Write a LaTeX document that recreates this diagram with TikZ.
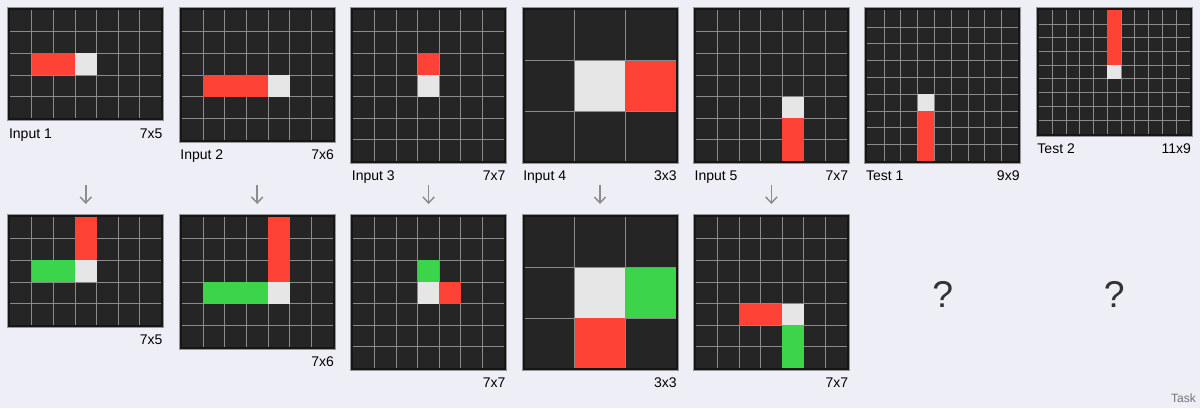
\documentclass[tikz,border=0pt]{standalone}
\usepackage{fontspec}
\setmainfont{Liberation Sans}
\usetikzlibrary{arrows.meta}

\definecolor{pagebg}{RGB}{238,238,246}
\definecolor{cellbg}{RGB}{37,37,37}
\definecolor{edgebg}{RGB}{22,22,22}
\definecolor{edgeline}{RGB}{150,150,150}
\definecolor{gridc}{RGB}{138,138,138}
\definecolor{arcred}{RGB}{255,65,54}
\definecolor{arcgreen}{RGB}{60,212,75}
\definecolor{arcwhite}{RGB}{230,230,230}
\definecolor{flowgray}{RGB}{140,140,140}

% frame, dark cells and inner grid lines of one board (cols, rows)
\newcommand{\arcboard}[2]{%
  \filldraw[boardedge] ([shift={(-1.875pt,1.875pt)}]0,0) rectangle ([shift={(1.875pt,-1.875pt)}]#1,#2);
  \fill[cellbg] (0,0) rectangle (#1,#2);
  \pgfmathtruncatemacro{\lastcol}{#1-1}
  \pgfmathtruncatemacro{\lastrow}{#2-1}
  \foreach \c in {1,...,\lastcol} \draw[gridstroke] (\c,0) -- (\c,#2);
  \foreach \r in {1,...,\lastrow} \draw[gridstroke] (0,\r) -- (#1,\r);
}

\begin{document}
\begin{tikzpicture}[
  x=0.75pt,y=-0.75pt,
  boardedge/.style={draw=edgeline,fill=edgebg,line width=0.75pt},
  gridstroke/.style={draw=gridc,line width=0.7pt},
  flow/.style={-{Straight Barb[length=4.5pt,width=8.5pt]},draw=flowgray,line width=1.1pt},
  label/.style={font=\fontsize{10.5}{12}\selectfont,text=black,inner sep=0pt},
  namelabel/.style={label,anchor=base west},
  sizelabel/.style={label,anchor=base east},
  unknown/.style={font=\fontsize{28}{32}\selectfont,text=black!80,inner sep=0pt},
  caption/.style={font=\fontsize{9}{11}\selectfont,text=black!55,inner sep=0pt,anchor=base east},
]
\fill[pagebg] (0,0) rectangle (1200,408);
\useasboundingbox (0,0) rectangle (1200,408);

% top row: inputs and tests
\begin{scope}[shift={(10.3,10.3)},x=16.179pt,y=-16.179pt]
  \arcboard{7}{5}
  \fill[arcred] (1,2) rectangle (3,3);
  \fill[arcwhite] (3,2) rectangle (4,3);
\end{scope}
\node[namelabel] (in1-name) at (8.8,138.2) {Input 1};
\node[sizelabel] (in1-size) at (162.8,138.2) {7x5};

\begin{scope}[shift={(181.7,10.3)},x=16.179pt,y=-16.179pt]
  \arcboard{7}{6}
  \fill[arcred] (1,3) rectangle (4,4);
  \fill[arcwhite] (4,3) rectangle (5,4);
\end{scope}
\node[namelabel] (in2-name) at (180.2,159.7) {Input 2};
\node[sizelabel] (in2-size) at (334.2,159.7) {7x6};

\begin{scope}[shift={(353.1,10.3)},x=16.179pt,y=-16.179pt]
  \arcboard{7}{7}
  \fill[arcred] (3,2) rectangle (4,3);
  \fill[arcwhite] (3,3) rectangle (4,4);
\end{scope}
\node[namelabel] (in3-name) at (351.6,180.6) {Input 3};
\node[sizelabel] (in3-size) at (505.6,180.6) {7x7};

\begin{scope}[shift={(524.5,10.3)},x=37.75pt,y=-37.75pt]
  \arcboard{3}{3}
  \fill[arcwhite] (1,1) rectangle (2,2);
  \fill[arcred] (2,1) rectangle (3,2);
\end{scope}
\node[namelabel] (in4-name) at (523.0,180.6) {Input 4};
\node[sizelabel] (in4-size) at (677.0,180.6) {3x3};

\begin{scope}[shift={(695.9,10.3)},x=16.179pt,y=-16.179pt]
  \arcboard{7}{7}
  \fill[arcwhite] (4,4) rectangle (5,5);
  \fill[arcred] (4,5) rectangle (5,7);
\end{scope}
\node[namelabel] (in5-name) at (694.4,180.6) {Input 5};
\node[sizelabel] (in5-size) at (848.4,180.6) {7x7};

\begin{scope}[shift={(867.3,10.3)},x=12.583pt,y=-12.583pt]
  \arcboard{9}{9}
  \fill[arcwhite] (3,5) rectangle (4,6);
  \fill[arcred] (3,6) rectangle (4,9);
\end{scope}
\node[namelabel] (test1-name) at (865.8,180.6) {Test 1};
\node[sizelabel] (test1-size) at (1019.8,180.6) {9x9};

\begin{scope}[shift={(1038.7,10.3)},x=10.295pt,y=-10.295pt]
  \arcboard{11}{9}
  \fill[arcred] (5,0) rectangle (6,4);
  \fill[arcwhite] (5,4) rectangle (6,5);
\end{scope}
\node[namelabel] (test2-name) at (1037.2,153.3) {Test 2};
\node[sizelabel] (test2-size) at (1191.2,153.3) {11x9};

% arrows from input to output
\coordinate (in1-arr) at (85.8,185);   \coordinate (out1-arr) at (85.8,204);
\coordinate (in2-arr) at (257.2,185);  \coordinate (out2-arr) at (257.2,204);
\coordinate (in3-arr) at (428.6,185);  \coordinate (out3-arr) at (428.6,204);
\coordinate (in4-arr) at (600.0,185);  \coordinate (out4-arr) at (600.0,204);
\coordinate (in5-arr) at (771.4,185);  \coordinate (out5-arr) at (771.4,204);
\draw[flow] (in1-arr) -- (out1-arr);
\draw[flow] (in2-arr) -- (out2-arr);
\draw[flow] (in3-arr) -- (out3-arr);
\draw[flow] (in4-arr) -- (out4-arr);
\draw[flow] (in5-arr) -- (out5-arr);

% bottom row: outputs
\begin{scope}[shift={(10.3,217.3)},x=16.179pt,y=-16.179pt]
  \arcboard{7}{5}
  \fill[arcred] (3,0) rectangle (4,2);
  \fill[arcgreen] (1,2) rectangle (3,3);
  \fill[arcwhite] (3,2) rectangle (4,3);
\end{scope}
\node[sizelabel] (out1-size) at (162.8,344.7) {7x5};

\begin{scope}[shift={(181.7,217.3)},x=16.179pt,y=-16.179pt]
  \arcboard{7}{6}
  \fill[arcred] (4,0) rectangle (5,3);
  \fill[arcgreen] (1,3) rectangle (4,4);
  \fill[arcwhite] (4,3) rectangle (5,4);
\end{scope}
\node[sizelabel] (out2-size) at (334.2,366.2) {7x6};

\begin{scope}[shift={(353.1,217.3)},x=16.179pt,y=-16.179pt]
  \arcboard{7}{7}
  \fill[arcgreen] (3,2) rectangle (4,3);
  \fill[arcwhite] (3,3) rectangle (4,4);
  \fill[arcred] (4,3) rectangle (5,4);
\end{scope}
\node[sizelabel] (out3-size) at (505.6,387.4) {7x7};

\begin{scope}[shift={(524.5,217.3)},x=37.75pt,y=-37.75pt]
  \arcboard{3}{3}
  \fill[arcwhite] (1,1) rectangle (2,2);
  \fill[arcgreen] (2,1) rectangle (3,2);
  \fill[arcred] (1,2) rectangle (2,3);
\end{scope}
\node[sizelabel] (out4-size) at (677.0,387.4) {3x3};

\begin{scope}[shift={(695.9,217.3)},x=16.179pt,y=-16.179pt]
  \arcboard{7}{7}
  \fill[arcred] (2,4) rectangle (4,5);
  \fill[arcwhite] (4,4) rectangle (5,5);
  \fill[arcgreen] (4,5) rectangle (5,7);
\end{scope}
\node[sizelabel] (out5-size) at (848.4,387.4) {7x7};

\node[unknown] (test1-out) at (942.8,294) {?};
\node[unknown] (test2-out) at (1114.2,294) {?};
\node[caption] (task) at (1196,402) {Task};
\end{tikzpicture}
\end{document}
